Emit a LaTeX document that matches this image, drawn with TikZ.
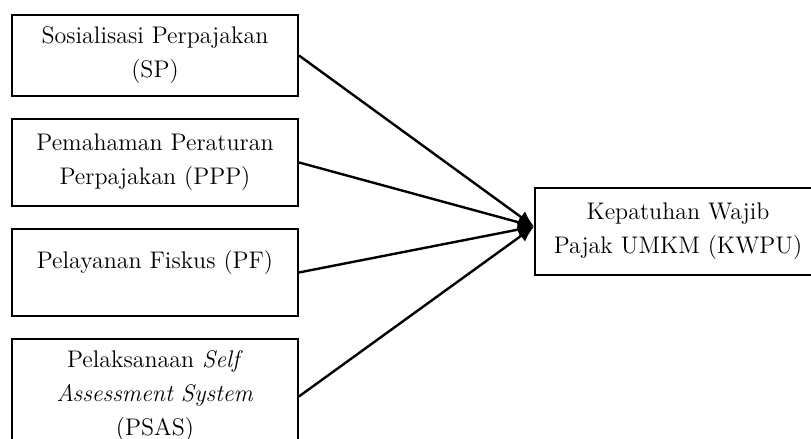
\documentclass[tikz,border=0pt]{standalone}
\usepackage{tikz}
\usetikzlibrary{arrows.meta,chains,positioning}
\tikzset{every picture/.style={
  >={Latex[length=8pt,width=7pt]}   % Filled arrow heads.
  }
}

\begin{document}
\begin{tikzpicture}[
      start chain=going below,
      node distance=10.5pt,
      var/.style={
        draw,
        line width=1pt,
        text width=131pt,
        inner sep=6pt,
        minimum height=#1,
        align=center,
        font=\fontsize{12}{17}\selectfont
      },
      var/.default=43.5pt]

      \useasboundingbox (0,0) rectangle (405.5pt,-219.5pt);

      % Draw the independent variables.
      \node[var=39.5pt,on chain] (sp) at (77.5pt,-27.75pt) {Sosialisasi Perpajakan\\(SP)};
      \node[var,on chain] (ppp) {Pemahaman Peraturan\\Perpajakan (PPP)};
      \node[var,on chain,text height=14pt,text depth=17.5pt] (pf) {Pelayanan Fiskus (PF)};
      \node[var,on chain] (psas) {Pelaksanaan \textit{Self}\\\textit{Assessment System}\\(PSAS)};

      % Draw the dependent variable.
      \node[var] (kwpu) at (339pt,-115.75pt) {Kepatuhan Wajib\\Pajak UMKM (KWPU)};

      % Render the links.
      \def\link#1{\draw[->,line width=1.2pt] (#1.east) -- ([yshift=2.5pt] kwpu.west)}; % Helper.

      \link{sp};
      \link{ppp};
      \link{pf};
      \link{psas};

    \end{tikzpicture}
\end{document}
